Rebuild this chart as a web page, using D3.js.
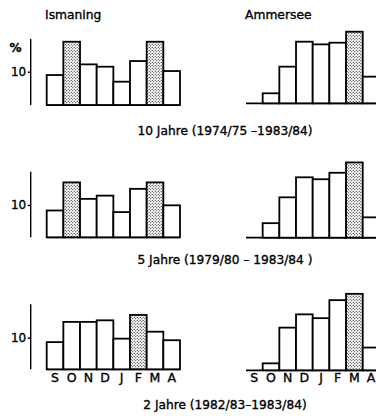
<!DOCTYPE html>
<html>
<head>
<meta charset="utf-8">
<script src="https://cdn.jsdelivr.net/npm/d3@7"></script>
<style>
  body { margin: 0; background: #fff; }
  text { font-family: "DejaVu Sans", sans-serif; fill: #000; stroke: #000; stroke-width: 0.35; }
</style>
</head>
<body>
<div id="chart"></div>
<script>
// months (Sept - April)
const months = ['S', 'O', 'N', 'D', 'J', 'F', 'M', 'A'];

// share in % per month
const ismaning10 = [9.0, 19.0, 12.2, 11.5, 7.0, 13.2, 19.0, 10.2];
const ammersee10 = [0, 3.0, 11.0, 18.5, 17.7, 18.2, 21.5, 8.0];
const ismaning5 = [8.3, 17.0, 11.9, 12.9, 7.8, 15.0, 17.0, 9.9];
const ammersee5 = [0, 4.5, 12.5, 18.7, 18.1, 20.1, 23.3, 6.3];
const ismaning2 = [8.6, 15.0, 15.0, 15.5, 9.7, 17.2, 11.9, 9.2];
const ammersee2 = [0, 2.2, 13.5, 17.7, 16.5, 22.2, 24.2, 7.2];

// months with stippled bar (maximum)
const ismaning10Max = ['O', 'M'];
const ammersee10Max = ['M'];
const ismaning5Max = ['O', 'M'];
const ammersee5Max = ['M'];
const ismaning2Max = ['F'];
const ammersee2Max = ['M'];

const stations = ['Ismaning', 'Ammersee'];
const captions = [
  '10 Jahre (1974/75 \u20131983/84)',
  '5 Jahre (1979/80 \u2013 1983/84 )',
  '2 Jahre (1982/83\u20131983/84)'
];
const yTicks = [10];

const width = 376;
const height = 416;

// layout of the three rows: baseline, y of the 10% tick, top of axis line
const rows = [
  { base: 105, ten: 71.7, top: 39, amShift: -1.7, capY: 134.5,
    data: [ismaning10, ammersee10], max: [ismaning10Max, ammersee10Max] },
  { base: 237.3, ten: 205, top: 171.7, amShift: 0.4, capY: 263.5,
    data: [ismaning5, ammersee5], max: [ismaning5Max, ammersee5Max] },
  { base: 369.3, ten: 337.7, top: 304.3, amShift: 1, capY: 408.5,
    data: [ismaning2, ammersee2], max: [ismaning2Max, ammersee2Max] }
];

const svg = d3.select('#chart').append('svg')
  .attr('width', width)
  .attr('height', height);

// stipple fill for the maximum bars
const pat = svg.append('defs').append('pattern')
  .attr('id', 'dots')
  .attr('patternUnits', 'userSpaceOnUse')
  .attr('width', 3)
  .attr('height', 3);
pat.append('rect').attr('width', 3).attr('height', 3).attr('fill', '#fff');
pat.append('circle').attr('cx', 0.75).attr('cy', 0.75).attr('r', 0.6).attr('fill', '#000');
pat.append('circle').attr('cx', 2.25).attr('cy', 2.25).attr('r', 0.6).attr('fill', '#000');

// x scales for the two columns
const xScales = [
  d3.scaleBand().domain(months).range([46.7, 180]).padding(0),
  d3.scaleBand().domain(months).range([246, 379.4]).padding(0)
];

// station titles
svg.selectAll('.title')
  .data(stations)
  .enter().append('text')
  .attr('class', 'title')
  .attr('x', (d, i) => i === 0 ? 45 : 245)
  .attr('y', 18.5)
  .attr('font-size', 12.3)
  .text(d => d);

svg.append('text')
  .attr('x', 15.5)
  .attr('y', 51.5)
  .attr('text-anchor', 'middle')
  .attr('font-size', 12)
  .attr('font-weight', 'bold')
  .text('%');

rows.forEach((row, r) => {
  // y scale per row, from baseline and the 10% tick
  const y = d3.scaleLinear().domain([0, 10]).range([row.base, row.ten]);

  // y axis only for Ismaning
  const axis = d3.axisLeft(y)
    .tickValues(yTicks)
    .tickSize(3)
    .tickPadding(1.5);
  const gAxis = svg.append('g')
    .attr('transform', 'translate(30.7,0)')
    .call(axis);
  gAxis.select('.domain')
    .attr('d', `M0,${row.base}V${row.top}`)
    .attr('stroke-width', 1.4);
  gAxis.selectAll('.tick line').attr('stroke-width', 1.4);
  gAxis.selectAll('.tick text')
    .attr('font-family', '"DejaVu Sans", sans-serif')
    .attr('font-size', 12)
    .attr('fill', '#000');

  row.data.forEach((values, c) => {
    const x = xScales[c];
    const shift = c === 1 ? row.amShift : 0;
    const yc = d3.scaleLinear().domain([0, 10]).range([row.base + shift, row.ten + shift]);
    const g = svg.append('g');

    // baseline
    g.append('line')
      .attr('x1', x.range()[0])
      .attr('x2', x.range()[1])
      .attr('y1', yc(0))
      .attr('y2', yc(0))
      .attr('stroke', '#000')
      .attr('stroke-width', 1.8);

    g.selectAll('rect')
      .data(values.map((v, i) => ({ m: months[i], v: v })).filter(d => d.v > 0))
      .enter().append('rect')
      .attr('x', d => x(d.m))
      .attr('y', d => yc(d.v))
      .attr('width', x.bandwidth())
      .attr('height', d => yc(0) - yc(d.v))
      .attr('fill', d => row.max[c].includes(d.m) ? 'url(#dots)' : '#fff')
      .attr('stroke', '#000')
      .attr('stroke-width', 1.8);

    // month labels under the bottom row
    if (r === rows.length - 1) {
      g.selectAll('.month')
        .data(months)
        .enter().append('text')
        .attr('class', 'month')
        .attr('x', d => x(d) + x.bandwidth() / 2)
        .attr('y', 381.7)
        .attr('text-anchor', 'middle')
        .attr('font-size', 12.5)
        .text(d => d);
    }
  });

  svg.append('text')
    .attr('x', 225)
    .attr('y', row.capY)
    .attr('text-anchor', 'middle')
    .attr('font-size', 12.2)
    .text(captions[r]);
});
</script>
</body>
</html>
